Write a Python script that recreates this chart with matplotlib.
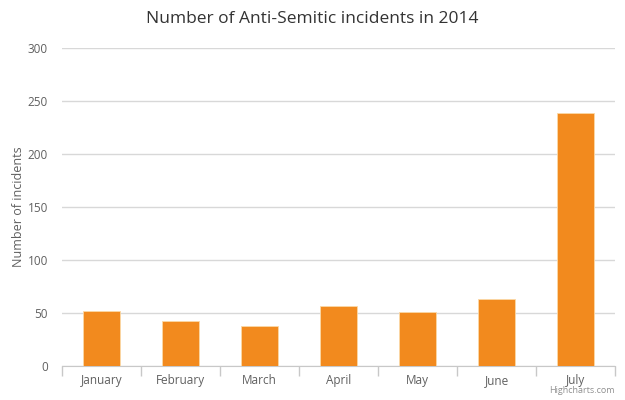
import matplotlib
matplotlib.use("Agg")
import matplotlib.pyplot as plt
import numpy as np

months = ["January", "February", "March", "April", "May", "June", "July"]
incidents = [52, 42, 38, 57, 51, 63, 239]
yticks = [0, 50, 100, 150, 200, 250, 300]

plt.rcParams['font.family'] = ['Open Sans', 'DejaVu Sans']

fig = plt.figure(figsize=(6.25, 4.0), dpi=100)
ax = fig.add_axes([0.0992, 0.085, 0.885, 0.795])

x = np.arange(len(months))
ax.bar(x, incidents, width=0.47, color="#F28A1E", edgecolor="#FBD9A6", linewidth=0.6, zorder=3)

ax.set_xlim(-0.5, len(months) - 0.5)
ax.set_ylim(0, 300)
ax.set_yticks(yticks)
ax.set_yticklabels([str(v) for v in yticks], color="#606060", fontsize=8.5)
ax.yaxis.grid(True, color="#D8D8D8", linewidth=1, zorder=0)
ax.tick_params(axis='y', length=0, pad=10)

ax.set_xticks(x)
ax.set_xticklabels(months, color="#606060", fontsize=8.5)
ax.set_xticks(np.arange(-0.5, len(months)), minor=True)
ax.tick_params(axis='x', which='major', length=0, pad=6)
ax.tick_params(axis='x', which='minor', length=7, color="#C8C8C8", width=1)

for s in ["top", "right", "left"]:
    ax.spines[s].set_visible(False)
ax.spines["bottom"].set_color("#C8C8C8")

ax.set_ylabel("Number of incidents", color="#606060", fontsize=9, labelpad=2)
fig.text(0.5, 0.953, "Number of Anti-Semitic incidents in 2014", ha="center", va="center",
         fontsize=12.5, color="#333333")
fig.text(0.984, 0.012, "Highcharts.com", ha="right", va="bottom", fontsize=6.5, color="#909090")

fig.savefig("out.png", dpi=100)
